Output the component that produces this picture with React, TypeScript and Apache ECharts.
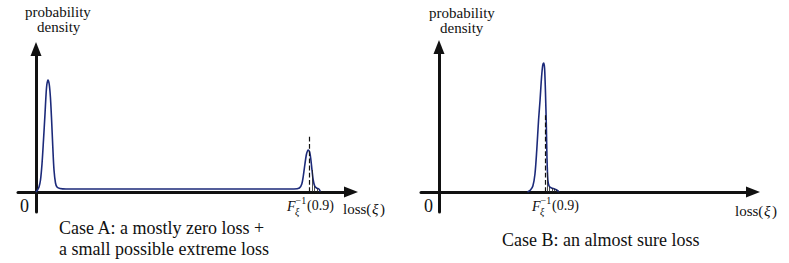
import React, { useEffect, useRef } from "react";
import * as echarts from "echarts";

// Case A: mostly zero loss + small possible extreme loss (x: loss units, y: density units)
const caseAX = [0, 0.5, 1, 1.5, 2, 2.5, 3, 3.3, 3.6, 4, 4.4, 4.8, 5.2, 5.6, 6, 6.5, 7, 8, 10, 20, 40, 60, 80, 86, 87.8, 88.6, 89.1, 89.6, 90.1, 90.5, 90.8, 91.2, 91.6, 92.0, 92.4, 92.9, 93.5, 94.3, 94.7, 94.8];
const caseAY = [0, 2, 5, 12, 28, 52, 78, 95, 107, 112, 108, 95, 72, 45, 22, 9, 5, 3.5, 3, 3, 3, 3, 3, 3, 4, 8, 16, 27, 37, 41, 42, 40, 33, 22, 12, 6, 4, 3, 1, 0];
const caseAQuantile = 91.1;
const caseAQuantileTop = 56;

// Case B: an almost sure loss
const caseBX = [29.5, 30.5, 31.3, 32, 32.6, 33.2, 33.7, 34.2, 34.6, 34.9, 35.2, 35.5, 35.8, 36.0, 36.3, 36.7, 37.5, 38.5, 39.5, 40];
const caseBY = [0, 2, 6, 18, 42, 72, 92, 115, 127, 129, 124, 100, 65, 35, 12, 6, 4, 3, 1.5, 0];
const caseBQuantile = 35.5;
const caseBQuantileTop = 79;

const hatchStepA = 0.9;
const hatchStepB = 0.7;

function interp(xs: number[], ys: number[], x: number): number {
  for (let i = 0; i < xs.length - 1; i++) {
    if (x >= xs[i] && x <= xs[i + 1]) {
      const t = (x - xs[i]) / (xs[i + 1] - xs[i]);
      return ys[i] + t * (ys[i + 1] - ys[i]);
    }
  }
  return 0;
}

function hatch(xs: number[], ys: number[], from: number, step: number) {
  const out: any[] = [];
  const end = xs[xs.length - 1];
  for (let x = from + step; x < end; x += step) {
    const h = interp(xs, ys, x);
    if (h > 0.5) out.push([{ coord: [x, 0] }, { coord: [x, h] }]);
  }
  return out;
}

const SERIF = "Liberation Serif";
const AXIS_COLOR = "#111";
const CURVE_COLOR = "#1c2a7a";

export default function App() {
  const ref = useRef<HTMLDivElement>(null);
  useEffect(() => {
    document.body.style.margin = "0";
    const chart = echarts.init(ref.current!, null, { renderer: "svg" });
    const axisLine = {
      onZero: true,
      lineStyle: { color: AXIS_COLOR, width: 3 },
      symbol: ["none", "triangle"],
      symbolSize: [11, 14],
    };
    const commonX = {
      type: "value" as const,
      axisLine,
      axisTick: { show: false },
      axisLabel: { show: false },
      splitLine: { show: false },
    };
    const commonY = { ...commonX };

    // texts are placed by their top-left corner
    const text = (x: number, y: number, t: string, size: number, italic = false) => {
      const style: any = { text: t, fontFamily: SERIF, fontSize: size, fill: "#111" };
      if (italic) style.fontStyle = "italic";
      return { type: "text", x, y, style };
    };

    const quantileLabel = (x: number, y: number) => [
      text(x, y - 6, "F", 14, true),
      text(x + 8.5, y - 10, "\u22121", 10),
      text(x + 8, y + 1, "\u03BE", 10, true),
      text(x + 20, y - 7, "(0.9)", 14),
    ];

    const lossLabel = (x: number, y: number) => [
      text(x, y, "loss(", 15),
      text(x + 29, y, "\u03BE", 15, true),
      text(x + 37, y, ")", 15),
    ];

    chart.setOption({
      animation: false,
      grid: [
        { left: 18, top: 49, width: 333, height: 163 },
        { left: 421, top: 47, width: 332, height: 165 },
      ],
      xAxis: [
        { ...commonX, gridIndex: 0, min: -6, max: 105 },
        { ...commonX, gridIndex: 1, min: -6, max: 104.7 },
      ],
      yAxis: [
        { ...commonY, gridIndex: 0, min: -20, max: 143 },
        { ...commonY, gridIndex: 1, min: -20, max: 145 },
      ],
      series: [
        {
          type: "line",
          xAxisIndex: 0,
          yAxisIndex: 0,
          data: caseAX.map((x, i) => [x, caseAY[i]]),
          smooth: 0.3,
          showSymbol: false,
          lineStyle: { color: CURVE_COLOR, width: 1.6 },
          markLine: {
            silent: true,
            symbol: ["none", "none"],
            label: { show: false },
            data: [
              [
                { coord: [caseAQuantile, 0], lineStyle: { type: "dashed", color: "#111", width: 1.2 } },
                { coord: [caseAQuantile, caseAQuantileTop] },
              ],
              ...hatch(caseAX, caseAY, caseAQuantile, hatchStepA),
            ],
            lineStyle: { color: "#222", width: 0.8, type: "solid" },
          },
        },
        {
          type: "line",
          xAxisIndex: 1,
          yAxisIndex: 1,
          data: caseBX.map((x, i) => [x, caseBY[i]]),
          smooth: 0.3,
          showSymbol: false,
          lineStyle: { color: CURVE_COLOR, width: 1.6 },
          markLine: {
            silent: true,
            symbol: ["none", "none"],
            label: { show: false },
            data: [
              [
                { coord: [caseBQuantile, 0], lineStyle: { type: "dashed", color: "#111", width: 1.2 } },
                { coord: [caseBQuantile, caseBQuantileTop] },
              ],
              ...hatch(caseBX, caseBY, caseBQuantile, hatchStepB),
            ],
            lineStyle: { color: "#222", width: 0.8, type: "solid" },
          },
        },
      ],
      graphic: [
        text(25, 4, "probability", 15),
        text(37, 19, "density", 15),
        text(429, 5, "probability", 15),
        text(440, 20, "density", 15),
        text(20, 197, "0", 18),
        text(424, 197, "0", 18),
        ...lossLabel(343, 201),
        ...lossLabel(735, 203),
        ...quantileLabel(287, 205),
        ...quantileLabel(532, 205),
        text(59, 219, "Case A: a mostly zero loss +", 18),
        text(59, 240, "a small possible extreme loss", 18),
        text(502, 231, "Case B: an almost sure loss", 18),
      ],
    });
    return () => chart.dispose();
  }, []);
  return <div ref={ref} style={{ width: 789, height: 263 }} />;
}
